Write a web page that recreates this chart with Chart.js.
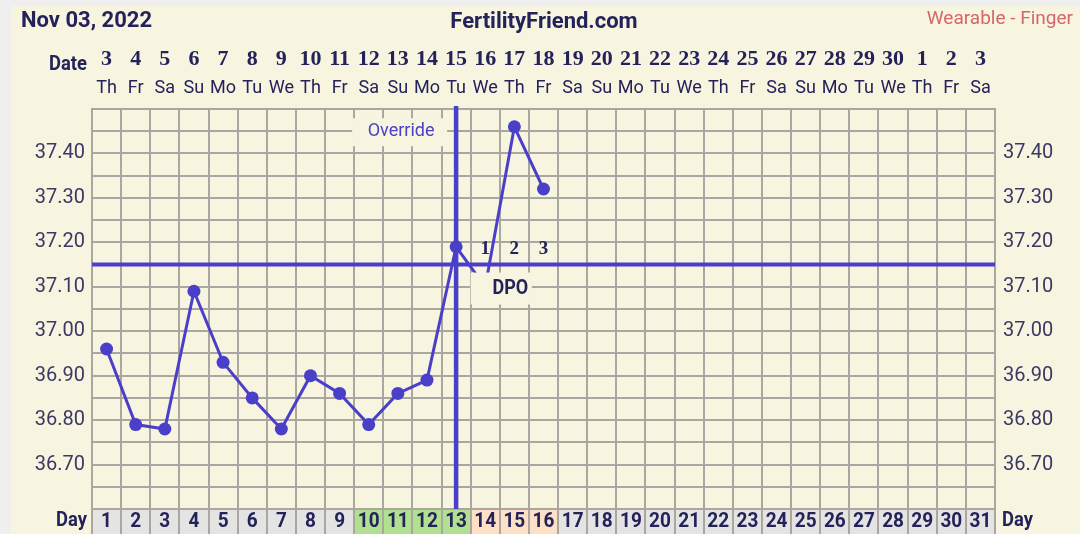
<!DOCTYPE html>
<html>
<head>
<meta charset="utf-8">
<title>BBT chart - Nov 03, 2022</title>
<script src="https://cdn.jsdelivr.net/npm/chart.js@4.4.0/dist/chart.umd.min.js"></script>
<style>
  html, body { margin: 0; padding: 0; background: #efefef; }
  #wrap { position: relative; width: 1080px; height: 534px; overflow: hidden; }
  #paper { position: absolute; left: 11px; top: 6px; right: 0; bottom: 0; background: #f7f4df; }
  #bbt { position: absolute; left: 0; top: 0; }
</style>
</head>
<body>
<div id="wrap">
  <div id="paper"></div>
  <canvas id="bbt" width="1080" height="534"></canvas>
</div>
<script>
// --- Chart data ---
const cycleDays = [1,2,3,4,5,6,7,8,9,10,11,12,13,14,15,16,17,18,19,20,21,22,23,24,25,26,27,28,29,30,31];
const dateLabels = ['3','4','5','6','7','8','9','10','11','12','13','14','15','16','17','18','19','20','21','22','23','24','25','26','27','28','29','30','1','2','3'];
const weekdays = ['Th','Fr','Sa','Su','Mo','Tu','We','Th','Fr','Sa','Su','Mo','Tu','We','Th','Fr','Sa','Su','Mo','Tu','We','Th','Fr','Sa','Su','Mo','Tu','We','Th','Fr','Sa'];
const temps = [36.96, 36.79, 36.78, 37.09, 36.93, 36.85, 36.78, 36.90, 36.86, 36.79, 36.86, 36.89, 37.19, 37.10, 37.46, 37.32,
               null, null, null, null, null, null, null, null, null, null, null, null, null, null, null];
const coverline = 37.15;
const ovulationDay = 13;
const dpoDays = [14, 15, 16];
const dpoLabels = ['1', '2', '3'];
const fertileDays = [10, 11, 12, 13];
const lutealDays = [14, 15, 16];

// --- Look ---
const INK = '#24225a';
const TICK_INK = '#3b3866';
const LINE = '#4a3fc8';
const GRID = '#a9a79f';
const PAPER = '#f7f4df';

function drawText(ctx, text, x, y, font, color, align, sx) {
    ctx.save();
    ctx.font = font;
    ctx.fillStyle = color;
    ctx.textAlign = align || 'center';
    ctx.textBaseline = 'middle';
    ctx.translate(x, y);
    ctx.scale(sx || 1, 1);
    ctx.fillText(text, 0, 0);
    ctx.restore();
}

const chartDecor = {
    id: 'chartDecor',
    beforeDraw(chart) {
        // coloured cells of the cycle-day row
        const { ctx, chartArea: a, scales: { x } } = chart;
        const w = x.getPixelForValue(1) - x.getPixelForValue(0);
        cycleDays.forEach((d, i) => {
            const cx = x.getPixelForValue(i);
            ctx.fillStyle = fertileDays.includes(d) ? '#b1e08f' : lutealDays.includes(d) ? '#fde0c5' : '#e4e4e3';
            ctx.fillRect(cx - w / 2, a.bottom, w, chart.height - a.bottom);
        });
    },
    beforeDatasetsDraw(chart) {
        const { ctx, chartArea: a, scales: { x, y } } = chart;
        ctx.save();
        ctx.strokeStyle = LINE;
        ctx.lineWidth = 4;
        const cy = y.getPixelForValue(coverline);
        ctx.beginPath(); ctx.moveTo(a.left, cy); ctx.lineTo(a.right, cy); ctx.stroke();
        const ox = x.getPixelForValue(ovulationDay - 1);
        ctx.lineWidth = 4.5;
        ctx.beginPath(); ctx.moveTo(ox, a.top - 3); ctx.lineTo(ox, a.bottom); ctx.stroke();
        ctx.restore();
    },
    afterDatasetsDraw(chart) {
        const { ctx, chartArea: a, scales: { x, y } } = chart;
        const w = x.getPixelForValue(1) - x.getPixelForValue(0);
        const ox = x.getPixelForValue(ovulationDay - 1);
        const cy = y.getPixelForValue(coverline);

        // DPO label box over the line
        const bx = x.getPixelForValue(dpoDays[0] - 1) - w / 2;
        ctx.fillStyle = PAPER;
        ctx.fillRect(bx, cy + 8, w * 2.1, 32);
        drawText(ctx, 'DPO', x.getPixelForValue(dpoDays[1] - 1) - 4, cy + 24, 'bold 20px Roboto', INK, 'center', 0.9);

        dpoDays.forEach((d, i) => {
            drawText(ctx, dpoLabels[i], x.getPixelForValue(d - 1), cy - 15, 'bold 19px "Liberation Serif"', INK, 'center');
        });

        // Override label
        const oy = y.getPixelForValue(37.45);
        ctx.fillStyle = PAPER;
        ctx.fillRect(ox - 104, oy - 13, 95, 28);
        drawText(ctx, 'Override', ox - 55, oy, '18px Roboto', LINE, 'center');
    },
    afterDraw(chart) {
        const { ctx, chartArea: a, scales: { x } } = chart;
        // header
        drawText(ctx, 'Nov 03, 2022', 21, 21, 'bold 22px Roboto', INK, 'left');
        drawText(ctx, 'FertilityFriend.com', 544, 22, 'bold 22px Roboto', INK, 'center');
        drawText(ctx, 'Wearable - Finger', 1073, 19, '19px Roboto', '#d5676b', 'right');
        drawText(ctx, 'Date', 87, 65, 'bold 20px Roboto', INK, 'right', 0.92);

        cycleDays.forEach((d, i) => {
            const cx = x.getPixelForValue(i);
            drawText(ctx, dateLabels[i], cx, 59, 'bold 22px "Liberation Serif"', INK, 'center');
            drawText(ctx, weekdays[i], cx, 88, '19px Roboto', INK, 'center', 0.95);
            drawText(ctx, String(d), cx, 522, 'bold 20px Roboto', INK, 'center', 0.95);
        });
        drawText(ctx, 'Day', 87, 521, 'bold 20px Roboto', INK, 'right', 0.92);
        drawText(ctx, 'Day', a.right + 7, 521, 'bold 20px Roboto', INK, 'left', 0.92);
    }
};

const tempTick = v => {
    const h = Math.round(v * 100);
    return (h % 10 === 0 && h >= 3670 && h <= 3740) ? (h / 100).toFixed(2) : '';
};

new Chart(document.getElementById('bbt'), {
    type: 'line',
    data: {
        labels: cycleDays,
        datasets: [{
            data: temps,
            borderColor: LINE,
            backgroundColor: LINE,
            borderWidth: 3,
            pointRadius: 6.5,
            pointBorderWidth: 0,
            tension: 0,
            clip: false
        }]
    },
    options: {
        responsive: false,
        animation: false,
        devicePixelRatio: 1,
        layout: { padding: { top: 109, left: 0, right: 0, bottom: 0 } },
        plugins: { legend: { display: false }, tooltip: { enabled: false } },
        scales: {
            x: {
                type: 'category',
                offset: true,
                grid: { offset: true, color: GRID, lineWidth: 2, drawTicks: true, tickLength: 26 },
                border: { display: true, color: GRID, width: 2 },
                ticks: { display: false },
                afterFit: s => { s.height = 25; }
            },
            y: {
                position: 'left',
                min: 36.6, max: 37.5,
                ticks: { stepSize: 0.05, autoSkip: false, callback: tempTick, color: TICK_INK, font: { family: 'Roboto', size: 20 }, padding: 7 },
                grid: { color: GRID, lineWidth: 2, drawTicks: false },
                border: { display: true, color: GRID, width: 2 },
                afterFit: s => { s.width = 92; }
            },
            y2: {
                position: 'right',
                min: 36.6, max: 37.5,
                ticks: { stepSize: 0.05, autoSkip: false, callback: tempTick, color: TICK_INK, font: { family: 'Roboto', size: 20 }, padding: 8 },
                grid: { display: false, drawTicks: false },
                border: { display: true, color: GRID, width: 2 },
                afterFit: s => { s.width = 85; }
            }
        }
    },
    plugins: [chartDecor]
});
</script>
</body>
</html>
